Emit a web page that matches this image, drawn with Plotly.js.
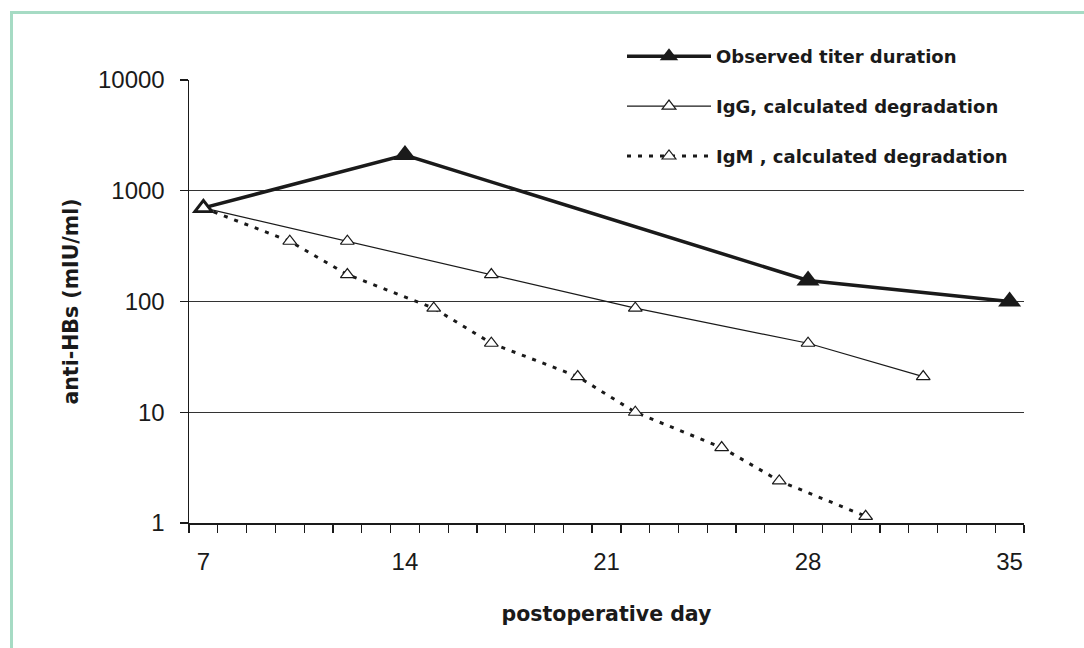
<!DOCTYPE html>
<html>
<head>
<meta charset="utf-8">
<script src="https://cdn.plot.ly/plotly-3.0.1.min.js"></script>
<style>
html,body{margin:0;padding:0;background:#fff;}
#wrap{position:relative;width:1084px;height:648px;}
#chart{position:absolute;left:0;top:0;width:1084px;height:648px;}
#frame{position:absolute;left:10px;top:11px;width:1074px;height:637px;border-left:3px solid #a6dbc4;border-top:3px solid #a6dbc4;pointer-events:none;}
</style>
</head>
<body>
<div id="wrap"><div id="chart"></div><div id="frame"></div></div>
<script>
// Data
const observedDays = [7, 14, 28, 35];
const observedTiter = [700, 2100, 155, 100];
const iggDays = [7, 12, 17, 22, 28, 32];
const iggTiter = [700, 350, 175, 87, 42, 21];
const igmDays = [7, 10, 12, 15, 17, 20, 22, 25, 27, 30];
const igmTiter = [700, 350, 175, 87, 42, 21, 10, 4.8, 2.4, 1.15];
const xTickVals = [7, 14, 21, 28, 35];
const xTickText = ['7', '14', '21', '28', '35'];
const yTickVals = [1, 10, 100, 1000, 10000];
const yTickText = ['1', '10', '100', '1000', '10000'];
const gridVals = [10, 100, 1000];
const seriesNames = ['Observed titer duration', 'IgG, calculated degradation', 'IgM , calculated degradation'];

const ink = '#1a1a1a';
const FONT = 'Liberation Sans, Arial, sans-serif';
const BOLD = 'DejaVu Sans, Liberation Sans, sans-serif';

const traces = [
  {x: [null], y: [null], yaxis: 'y2', showlegend: false, hoverinfo: 'skip', type: 'scatter', mode: 'lines'},
  {
    x: observedDays, y: observedTiter, name: seriesNames[0], legendgroup: 'a',
    type: 'scatter', mode: 'lines+markers',
    line: {color: ink, width: 3.5},
    marker: {symbol: 'triangle-up', size: 20, color: ink, line: {width: 0}}
  },
  {
    x: iggDays, y: iggTiter, name: seriesNames[1], legendgroup: 'b',
    type: 'scatter', mode: 'lines+markers',
    line: {color: ink, width: 1.2},
    marker: {symbol: 'triangle-up', size: 12, color: '#fff', line: {color: ink, width: 1.2}}
  },
  {
    x: igmDays, y: igmTiter, name: seriesNames[2], legendgroup: 'c',
    type: 'scatter', mode: 'lines+markers',
    line: {color: ink, width: 3, dash: '4px,7px'},
    marker: {symbol: 'triangle-up', size: 12, color: '#fff', line: {color: ink, width: 1.2}}
  }
];

const layout = {
  width: 1084, height: 648,
  paper_bgcolor: '#fff', plot_bgcolor: '#fff',
  margin: {l: 189, r: 60, t: 80, b: 125, autoexpand: false},
  font: {family: FONT, color: ink},
  showlegend: true,
  legend: {
    xref: 'container', yref: 'container',
    x: 622 / 1084, y: 1 - 38 / 648, xanchor: 'left', yanchor: 'top',
    bgcolor: 'rgba(0,0,0,0)', borderwidth: 0,
    itemwidth: 84, traceorder: 'grouped', tracegroupgap: 23.5,
    font: {family: BOLD, size: 18, weight: 'bold', color: ink}
  },
  xaxis: {
    range: [6.5, 35.5], showgrid: false, zeroline: false,
    tickmode: 'array', tickvals: xTickVals, ticktext: xTickText,
    ticks: '', ticklabelstandoff: 17,
    tickfont: {family: FONT, size: 24, color: ink},
    showline: true, linecolor: ink, linewidth: 1.5,
    minor: {ticks: 'outside', tick0: 6.5, dtick: 1, ticklen: 8, tickwidth: 1.2, tickcolor: ink, showgrid: false},
    title: {text: 'postoperative day', font: {family: BOLD, size: 20.5, weight: 'bold', color: ink}, standoff: 32}
  },
  yaxis: {
    type: 'log', range: [0, 4], showgrid: false, zeroline: false,
    tickmode: 'array', tickvals: yTickVals, ticktext: yTickText,
    ticks: 'outside', ticklen: 8, tickwidth: 1.2, tickcolor: ink,
    ticklabelstandoff: 10,
    tickfont: {family: FONT, size: 24, color: ink},
    showline: true, linecolor: ink, linewidth: 1.5,
    title: {text: 'anti-HBs (mIU/ml)', font: {family: BOLD, size: 20.5, weight: 'bold', color: ink}, standoff: 14}
  },
  yaxis2: {
    type: 'log', range: [0, 4], overlaying: 'y', side: 'left',
    tickmode: 'array', tickvals: gridVals, showticklabels: false, ticks: '',
    showgrid: true, gridcolor: '#333', gridwidth: 1.2, zeroline: false, showline: false
  }
};

Plotly.newPlot('chart', traces, layout, {displayModeBar: false, staticPlot: true});
</script>
</body>
</html>
